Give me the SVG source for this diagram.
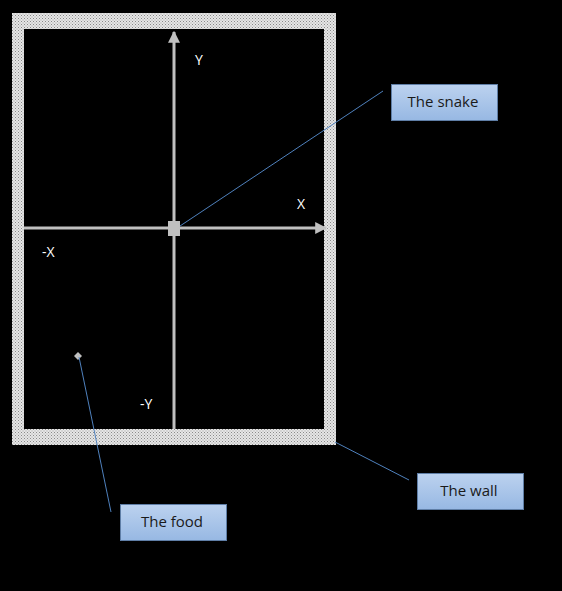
<svg xmlns="http://www.w3.org/2000/svg" width="562" height="591" viewBox="0 0 562 591">
<defs>
<pattern id="dots" width="3" height="3" patternUnits="userSpaceOnUse">
<rect width="3" height="3" fill="#e6e6e6"/>
<rect x="0" y="0" width="1" height="1" fill="#8a8a8a"/>
<rect x="1.5" y="1.5" width="1" height="1" fill="#a0a0a0"/>
</pattern>
<linearGradient id="box" x1="0" y1="0" x2="0" y2="1">
<stop offset="0" stop-color="#bcd2ef"/>
<stop offset="1" stop-color="#97b8e3"/>
</linearGradient>
<marker id="ah" viewBox="0 0 10 10" refX="9" refY="5" markerWidth="4" markerHeight="4" orient="auto" markerUnits="strokeWidth">
<path d="M0,0 L10,5 L0,10 z" fill="#c0c0c0"/>
</marker>
<style>
.lbl{font-family:"Open Sans","Liberation Sans",sans-serif;font-size:15px;fill:#1a1a1a;text-anchor:middle}
.ax{font-family:"Open Sans","Liberation Sans",sans-serif;font-size:14px;fill:#ffffff}
.bx{fill:url(#box);stroke:#5f7ea6;stroke-width:1}
.cn{stroke:#4f81bd;stroke-width:1;fill:none}
.axis{stroke:#c0c0c0;stroke-width:3;fill:none}
</style>
</defs>
<rect width="562" height="591" fill="#000"/>
<g id="wall">
<path d="M12,13 H336 V445 H12 Z M24,29 V429 H324 V29 Z" fill="url(#dots)" fill-rule="evenodd"/>
</g>
<g id="axes">
<line class="axis" x1="174" y1="429" x2="174" y2="32" marker-end="url(#ah)"/>
<line class="axis" x1="24" y1="228" x2="326" y2="228" marker-end="url(#ah)"/>
<text class="ax" x="195" y="65">Y</text>
<text class="ax" x="297" y="209">X</text>
<text class="ax" x="42" y="257">-X</text>
<text class="ax" x="140" y="409">-Y</text>
</g>
<g id="snake">
<rect x="168" y="221" width="12" height="15" fill="#c0c0c0"/>
</g>
<g id="food">
<path d="M78,352 L82,356 L78,360 L74,356 Z" fill="#c0c0c0"/>
</g>
<g id="connectors">
<line class="cn" x1="180" y1="226" x2="383" y2="91"/>
<line class="cn" x1="335" y1="442" x2="409" y2="480"/>
<line class="cn" x1="79" y1="357" x2="111" y2="512"/>
</g>
<g id="label-snake">
<rect class="bx" x="391.5" y="84.5" width="106" height="36"/>
<text class="lbl" x="443" y="107">The snake</text>
</g>
<g id="label-wall">
<rect class="bx" x="417.5" y="473.5" width="106" height="36"/>
<text class="lbl" x="469" y="496">The wall</text>
</g>
<g id="label-food">
<rect class="bx" x="120.5" y="504.5" width="106" height="36"/>
<text class="lbl" x="172" y="527">The food</text>
</g>
</svg>
